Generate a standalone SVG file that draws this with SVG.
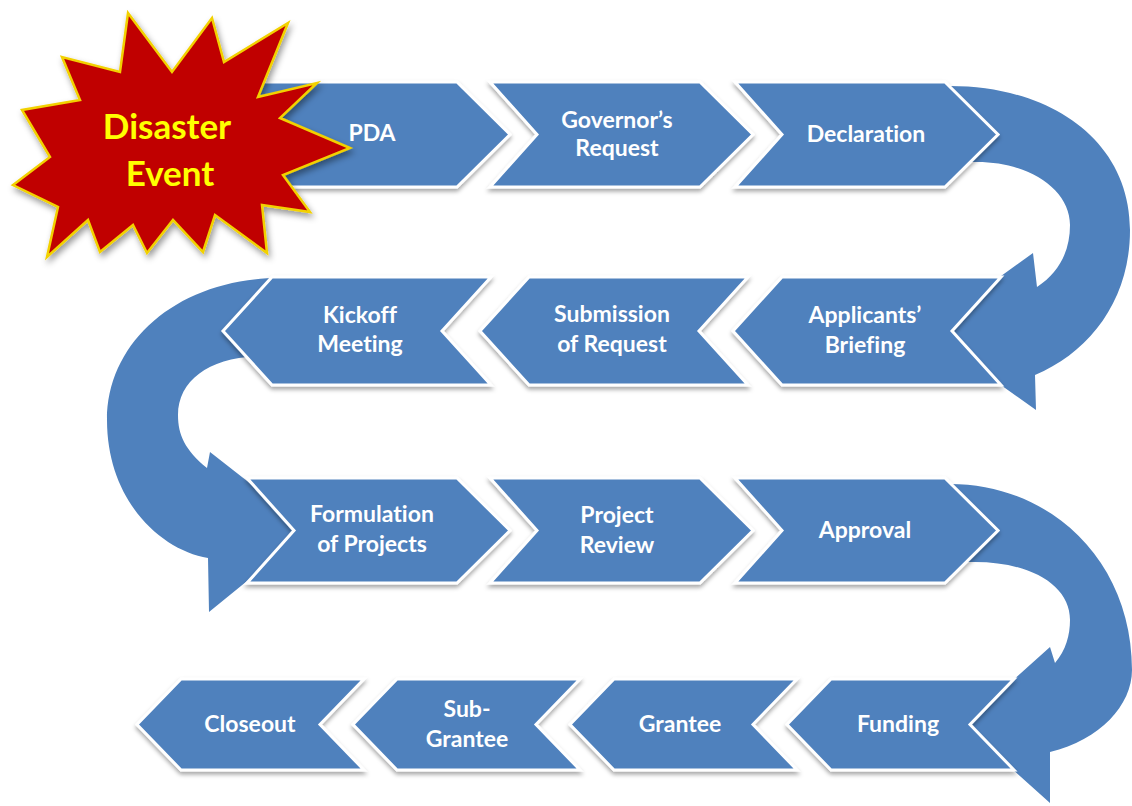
<svg xmlns="http://www.w3.org/2000/svg" width="1132" height="806" viewBox="0 0 1132 806">
<defs>
<filter id="sh" x="-10%" y="-10%" width="120%" height="130%">
<feDropShadow dx="0" dy="3" stdDeviation="2" flood-color="#000" flood-opacity="0.35"/>
</filter>
<filter id="ssh" x="-10%" y="-10%" width="125%" height="125%">
<feDropShadow dx="2" dy="4" stdDeviation="3" flood-color="#000" flood-opacity="0.4"/>
</filter>
<style>
.chev{fill:#4F81BD;stroke:#fff;stroke-width:3;stroke-linejoin:miter;filter:url(#sh)}
.arr{fill:#4F81BD;stroke:none}
.lbl{font-family:Lato,"Open Sans","Liberation Sans",sans-serif;font-weight:bold;font-size:23px;fill:#fff;text-anchor:middle;font-variant-ligatures:none}
.star{fill:#C00000;stroke:#F2D100;stroke-width:2.5;stroke-linejoin:miter;filter:url(#ssh)}
.stxt{font-family:Lato,"Open Sans","Liberation Sans",sans-serif;font-weight:bold;font-size:35px;fill:#FFFF00;text-anchor:middle}
</style>
</defs>
<rect width="1132" height="806" fill="#fff"/>

<g id="connectors">
<path class="arr" d="M930,86 L950,86 C1050,86 1130,140 1130,230 C1130,300 1090,352 1035,375 L1036,410 L925,331 L1033,253 L1037,287 C1060,272 1070,250 1070,225 C1070,190 1030,162 977,162 L930,162 Z"/>
<path class="arr" d="M300,278 L280,278 C180,278 107,340 107,420 C107,500 160,550 208,558 L209,612 L310,530 L210,452 L207,468 C185,450 178,435 178,415 C178,380 210,357 260,356 L300,356 Z"/>
<path class="arr" d="M930,484 L950,484 C1050,484 1132,560 1132,670 C1132,705 1100,740 1050,752 L1050,803 L963,725 L1050,647 L1055,663 C1066,650 1070,635 1070,620 C1070,585 1030,562 975,562 L930,562 Z"/>
</g>

<g id="pda"><polygon class="chev" points="247,82 457,82 510,134.5 457,187 247,187 294,134.5"/><text class="lbl" x="372" y="141">PDA</text></g>
<g id="governors-request"><polygon class="chev" points="490,82 700,82 753,134.5 700,187 490,187 537,134.5"/><text class="lbl" x="617" y="128">Governor’s</text><text class="lbl" x="617" y="156">Request</text></g>
<g id="declaration"><polygon class="chev" points="735,82 945,82 998,134.5 945,187 735,187 782,134.5"/><text class="lbl" x="866" y="142">Declaration</text></g>

<g id="kickoff-meeting"><polygon class="chev" points="223,331 272,277 491,277 442,331 491,385 272,385"/><text class="lbl" x="360" y="323">Kickoff</text><text class="lbl" x="360" y="352">Meeting</text></g>
<g id="submission-of-request"><polygon class="chev" points="480,331 529,277 748,277 699,331 748,385 529,385"/><text class="lbl" x="612" y="322">Submission</text><text class="lbl" x="612" y="352">of Request</text></g>
<g id="applicants-briefing"><polygon class="chev" points="733,331 782,277 1001,277 952,331 1001,385 782,385"/><text class="lbl" x="865" y="323">Applicants’</text><text class="lbl" x="865" y="353">Briefing</text></g>

<g id="formulation-of-projects"><polygon class="chev" points="247,478 457,478 510,530.5 457,583 247,583 294,530.5"/><text class="lbl" x="372" y="522">Formulation</text><text class="lbl" x="372" y="552">of Projects</text></g>
<g id="project-review"><polygon class="chev" points="490,478 700,478 753,530.5 700,583 490,583 537,530.5"/><text class="lbl" x="617" y="523">Project</text><text class="lbl" x="617" y="553">Review</text></g>
<g id="approval"><polygon class="chev" points="735,478 945,478 998,530.5 945,583 735,583 782,530.5"/><text class="lbl" x="865" y="538">Approval</text></g>

<g id="closeout"><polygon class="chev" points="137,724.5 181,679 364,679 320,724.5 364,770 181,770"/><text class="lbl" x="250" y="732">Closeout</text></g>
<g id="sub-grantee"><polygon class="chev" points="353,724.5 397,679 580,679 536,724.5 580,770 397,770"/><text class="lbl" x="467" y="717">Sub-</text><text class="lbl" x="467" y="747">Grantee</text></g>
<g id="grantee"><polygon class="chev" points="570,724.5 614,679 797,679 753,724.5 797,770 614,770"/><text class="lbl" x="680" y="732">Grantee</text></g>
<g id="funding"><polygon class="chev" points="787,724.5 831,679 1014,679 970,724.5 1014,770 831,770"/><text class="lbl" x="898" y="732">Funding</text></g>

<g id="disaster-event">
<polygon class="star" points="128,13 172,72 212,18 224,62 288,23 258,97 317,83 280,118 350,148 283,175 310,212 262,205 267,253 215,215 203,252 173,220 147,253 133,225 100,252 88,220 47,257 58,207 13,185 50,157 22,110 80,100 62,57 120,72"/>
<text class="stxt" x="167" y="139">Disaster</text>
<text class="stxt" x="170" y="186">Event</text>
</g>
</svg>
